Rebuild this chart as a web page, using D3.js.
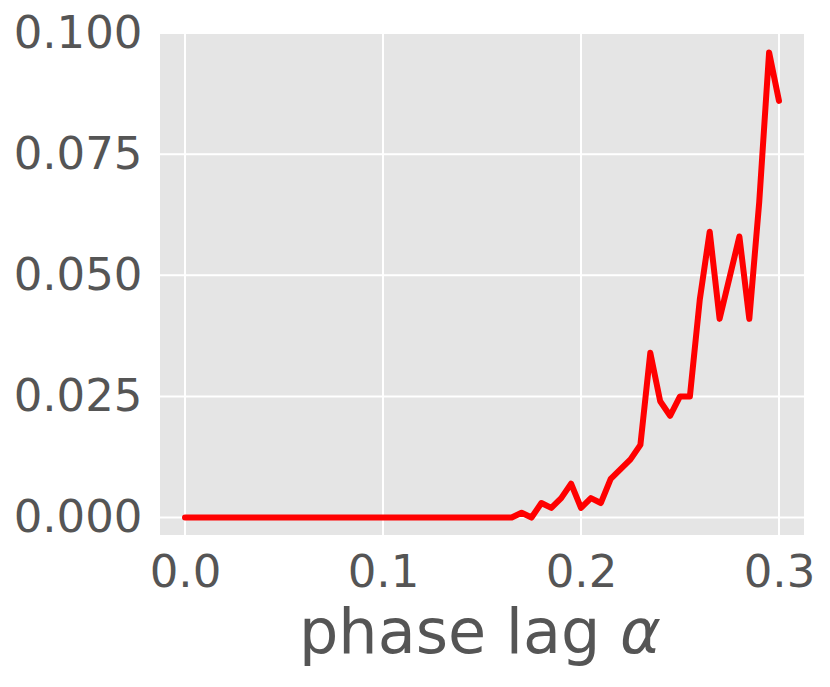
<!DOCTYPE html>
<html>
<head>
<meta charset="utf-8">
<script src="https://cdn.jsdelivr.net/npm/d3@7"></script>
<style>
  body { margin: 0; background: #fff; }
  text { font-family: "DejaVu Sans", sans-serif; }
</style>
</head>
<body>
<div id="chart"></div>
<script>
// data
const alphas = [0.0, 0.005, 0.01, 0.015, 0.02, 0.025, 0.03, 0.035, 0.04, 0.045,
  0.05, 0.055, 0.06, 0.065, 0.07, 0.075, 0.08, 0.085, 0.09, 0.095,
  0.1, 0.105, 0.11, 0.115, 0.12, 0.125, 0.13, 0.135, 0.14, 0.145,
  0.15, 0.155, 0.16, 0.165, 0.17, 0.175, 0.18, 0.185, 0.19, 0.195,
  0.2, 0.205, 0.21, 0.215, 0.22, 0.225, 0.23, 0.235, 0.24, 0.245,
  0.25, 0.255, 0.26, 0.265, 0.27, 0.275, 0.28, 0.285, 0.29, 0.295, 0.3]
const values = [0, 0, 0, 0, 0, 0, 0, 0, 0, 0,
  0, 0, 0, 0, 0, 0, 0, 0, 0, 0,
  0, 0, 0, 0, 0, 0, 0, 0, 0, 0,
  0, 0, 0, 0, 0.001, 0.0, 0.003, 0.002, 0.004, 0.007,
  0.002, 0.004, 0.003, 0.008, 0.010, 0.012, 0.015, 0.034, 0.024, 0.021,
  0.025, 0.025, 0.045, 0.059, 0.041, 0.0495, 0.058, 0.041, 0.065, 0.096, 0.086]
const xTicks = [0.0, 0.1, 0.2, 0.3]
const yTicks = [0.000, 0.025, 0.050, 0.075, 0.100]

const dimensions = {
  width: 830,
  height: 687,
  margin: { top: 33, bottom: 152, left: 160, right: 26 }
}
dimensions.ctrWidth = dimensions.width - dimensions.margin.left - dimensions.margin.right
dimensions.ctrHeight = dimensions.height - dimensions.margin.top - dimensions.margin.bottom

const svg = d3.select('#chart')
  .append('svg')
  .attr('width', dimensions.width)
  .attr('height', dimensions.height)

const ctr = svg.append('g')
  .attr('transform', `translate(${dimensions.margin.left}, ${dimensions.margin.top})`)

// scales
const xScale = d3.scaleLinear()
  .domain([-0.01263, 0.31263])
  .range([0, dimensions.ctrWidth])

const yScale = d3.scaleLinear()
  .domain([-0.0036, 0.1])
  .range([dimensions.ctrHeight, 0])

// background
ctr.append('rect')
  .attr('width', dimensions.ctrWidth)
  .attr('height', dimensions.ctrHeight)
  .attr('fill', '#e5e5e5')

// grid
ctr.selectAll('.xgrid')
  .data(xTicks)
  .join('line')
  .attr('x1', d => xScale(d))
  .attr('x2', d => xScale(d))
  .attr('y1', 0)
  .attr('y2', dimensions.ctrHeight)
  .attr('stroke', '#fff')
  .attr('stroke-width', 2)

ctr.selectAll('.ygrid')
  .data(yTicks)
  .join('line')
  .attr('x1', 0)
  .attr('x2', dimensions.ctrWidth)
  .attr('y1', d => yScale(d))
  .attr('y2', d => yScale(d))
  .attr('stroke', '#fff')
  .attr('stroke-width', 2)

// line
const line = d3.line()
  .x((d, i) => xScale(alphas[i]))
  .y(d => yScale(d))

ctr.append('path')
  .datum(values)
  .attr('d', line)
  .attr('fill', 'none')
  .attr('stroke', '#ff0000')
  .attr('stroke-width', 6)
  .attr('stroke-linejoin', 'round')
  .attr('stroke-linecap', 'round')

// axes
const xAxis = d3.axisBottom(xScale)
  .tickValues(xTicks)
  .tickFormat(d3.format('.1f'))
  .tickSize(0)
  .tickPadding(20)

const xAxisGroup = ctr.append('g')
  .attr('transform', `translate(0, ${dimensions.ctrHeight})`)
  .call(xAxis)
xAxisGroup.select('.domain').remove()
xAxisGroup.selectAll('text')
  .attr('fill', '#555')
  .style('font-size', '45px')
  .style('font-family', '"DejaVu Sans", sans-serif')

const yAxis = d3.axisLeft(yScale)
  .tickValues(yTicks)
  .tickFormat(d3.format('.3f'))
  .tickSize(0)
  .tickPadding(17.5)

const yAxisGroup = ctr.append('g')
  .call(yAxis)
yAxisGroup.select('.domain').remove()
yAxisGroup.selectAll('text')
  .attr('fill', '#555')
  .style('font-size', '45px')
  .style('font-family', '"DejaVu Sans", sans-serif')

// x label
const xLabel = svg.append('text')
  .attr('x', 480)
  .attr('y', 653)
  .attr('text-anchor', 'middle')
  .attr('fill', '#555')
  .style('font-size', '62px')
xLabel.append('tspan').text('phase lag ')
xLabel.append('tspan').style('font-style', 'italic').text('α')
</script>
</body>
</html>
